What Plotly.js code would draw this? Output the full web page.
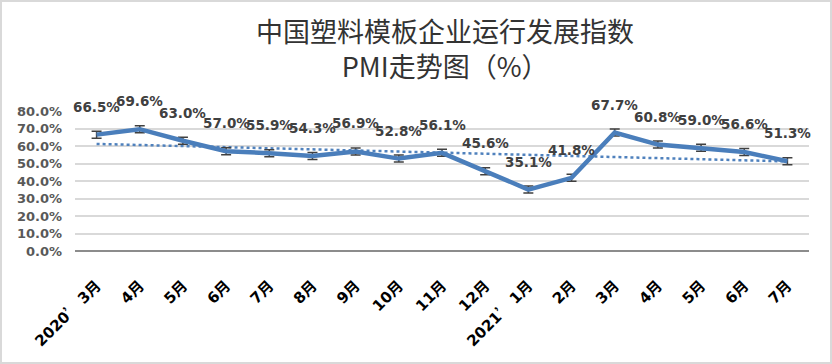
<!DOCTYPE html>
<html>
<head>
<meta charset="utf-8">
<script src="https://cdn.plot.ly/plotly-3.0.1.min.js"></script>
<style>
html,body{margin:0;padding:0;background:#fff;}
#wrap{position:relative;width:832px;height:364px;}
#chart{width:832px;height:364px;}
#frame{position:absolute;left:0;top:0;width:832px;height:364px;box-sizing:border-box;border:2px solid #d9d9d9;pointer-events:none;}
</style>
</head>
<body>
<div id="wrap"><div id="chart"></div><div id="frame"></div></div>
<script>
const categories = ["2020’3月","4月","5月","6月","7月","8月","9月","10月","11月","12月","2021’1月","2月","3月","4月","5月","6月","7月"];
const pmiValues = [66.5, 69.6, 63.0, 57.0, 55.9, 54.3, 56.9, 52.8, 56.1, 45.6, 35.1, 41.8, 67.7, 60.8, 59.0, 56.6, 51.3];
const errorValue = 2;
const trendEnds = [61.2, 51.2];
const yTicks = [0, 10, 20, 30, 40, 50, 60, 70, 80];

const cjk = '"Noto Sans CJK SC", "Noto Sans", sans-serif';
const latinBold = '"DejaVu Sans", "Noto Sans CJK SC", sans-serif';
const xIdx = categories.map((c, i) => i);
const tickText = categories.map(c => c.replace('’', '<span style="font-family:\'Noto Sans CJK SC\'">’ </span>'));

const trend = {
  x: [0, categories.length - 1],
  y: trendEnds,
  mode: 'lines',
  line: {color: '#4f81bd', width: 2.5, dash: 'dot'},
  hoverinfo: 'skip',
  showlegend: false
};
const main = {
  x: xIdx,
  y: pmiValues,
  mode: 'lines',
  line: {color: '#4a7ebb', width: 4.5},
  error_y: {type: 'constant', value: errorValue, color: '#404040', thickness: 1.5, width: 5},
  showlegend: false
};

const annotations = pmiValues.map((v, i) => ({
  x: i, y: v, xref: 'x', yref: 'y',
  text: v.toFixed(1) + '%',
  showarrow: false, yshift: 28,
  font: {family: latinBold, size: 13.5, color: '#404040', weight: 'bold'}
}));

const layout = {
  width: 832, height: 364,
  margin: {l: 75, r: 23, t: 111, b: 113},
  paper_bgcolor: '#ffffff', plot_bgcolor: '#ffffff',
  title: {
    text: '中国塑料模板企业运行发展指数<br>PMI走势图（%）',
    font: {family: cjk, size: 27, color: '#333333'},
    x: 0.535, xanchor: 'center', xref: 'container',
    y: 0.884, yanchor: 'top', yref: 'container'
  },
  xaxis: {
    range: [-0.5, categories.length - 0.5],
    tickmode: 'array', tickvals: xIdx, ticktext: tickText,
    tickangle: -45,
    tickfont: {family: latinBold, size: 15, color: '#000000', weight: 'bold'},
    showgrid: false, zeroline: false,
    showline: false, ticks: '',
    ticklabelstandoff: 22
  },
  yaxis: {
    range: [0, 80],
    tickmode: 'array', tickvals: yTicks,
    ticktext: yTicks.map(t => t.toFixed(1) + '%'),
    tickfont: {family: latinBold, size: 13, color: '#595959', weight: 'bold'},
    showgrid: true, gridcolor: '#d9d9d9', gridwidth: 2,
    zeroline: true, zerolinecolor: '#8c8c8c', zerolinewidth: 2.5,
    showline: false, ticks: '',
    ticklabelstandoff: 12
  },
  annotations: annotations
};

Plotly.newPlot('chart', [trend, main], layout, {displayModeBar: false, staticPlot: true});
</script>
</body>
</html>
